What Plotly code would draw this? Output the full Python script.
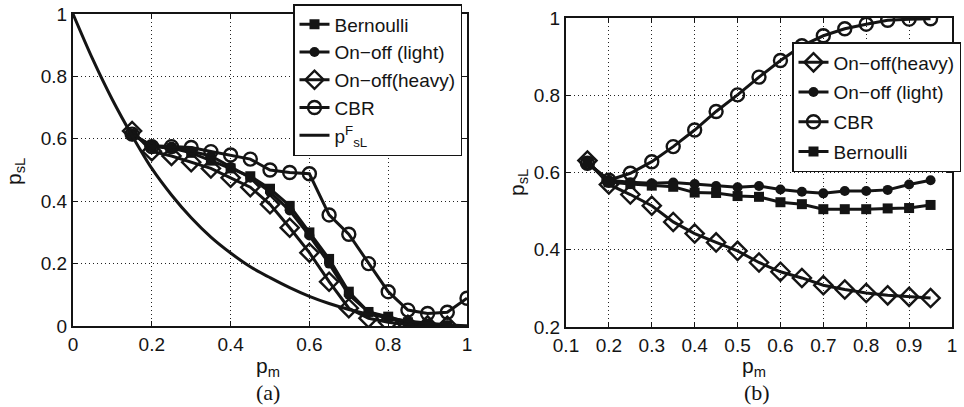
import plotly.graph_objects as go

# ---------------- data: panel (a) ----------------
pm_a = [0.15, 0.2, 0.25, 0.3, 0.35, 0.4, 0.45, 0.5, 0.55, 0.6, 0.65, 0.7, 0.75, 0.8, 0.85, 0.9, 0.95]
pm_a_cbr = [0.15, 0.2, 0.25, 0.3, 0.35, 0.4, 0.45, 0.5, 0.55, 0.6, 0.65, 0.7, 0.75, 0.8, 0.85, 0.9, 0.95, 1.0]
bern_a = [0.615, 0.575, 0.57, 0.555, 0.53, 0.505, 0.48, 0.44, 0.385, 0.3, 0.215, 0.11, 0.045, 0.03, 0.012, 0.005, 0.002]
light_a = [0.615, 0.578, 0.575, 0.56, 0.545, 0.51, 0.475, 0.43, 0.37, 0.29, 0.2, 0.1, 0.045, 0.025, 0.01, 0.004, 0.002]
heavy_a = [0.625, 0.56, 0.545, 0.525, 0.505, 0.475, 0.445, 0.39, 0.315, 0.235, 0.142, 0.057, 0.025, 0.012, 0.004, 0.002, 0.001]
cbr_a = [0.615, 0.575, 0.575, 0.572, 0.559, 0.548, 0.535, 0.5, 0.492, 0.488, 0.356, 0.294, 0.2, 0.11, 0.051, 0.04, 0.044, 0.089]
pm_f = [0, 0.05, 0.1, 0.15, 0.2, 0.25, 0.3, 0.35, 0.4, 0.45, 0.5, 0.55, 0.6, 0.65, 0.7, 0.75, 0.8, 0.85, 0.9, 0.95, 1.0]
psl_f = [1.0, 0.855, 0.725, 0.61, 0.505, 0.42, 0.347, 0.285, 0.234, 0.19, 0.155, 0.123, 0.095, 0.072, 0.053, 0.038, 0.026, 0.016, 0.009, 0.004, 0.001]

# ---------------- data: panel (b) ----------------
pm_b = [0.15, 0.2, 0.25, 0.3, 0.35, 0.4, 0.45, 0.5, 0.55, 0.6, 0.65, 0.7, 0.75, 0.8, 0.85, 0.9, 0.95]
heavy_b = [0.631, 0.569, 0.543, 0.514, 0.472, 0.442, 0.419, 0.397, 0.367, 0.343, 0.327, 0.308, 0.297, 0.288, 0.282, 0.278, 0.275]
light_b = [0.625, 0.58, 0.575, 0.572, 0.574, 0.57, 0.565, 0.562, 0.565, 0.556, 0.55, 0.546, 0.552, 0.552, 0.555, 0.569, 0.58]
cbr_b = [0.624, 0.58, 0.598, 0.628, 0.667, 0.71, 0.758, 0.801, 0.847, 0.89, 0.928, 0.954, 0.972, 0.984, 0.994, 0.997, 0.998]
bern_b = [0.625, 0.575, 0.57, 0.566, 0.563, 0.548, 0.547, 0.539, 0.537, 0.523, 0.518, 0.505, 0.505, 0.505, 0.507, 0.508, 0.516]

ticks_a_x = [0, 0.2, 0.4, 0.6, 0.8, 1]
ticks_a_y = [0, 0.2, 0.4, 0.6, 0.8, 1]
ticks_b_x = [0.1, 0.2, 0.3, 0.4, 0.5, 0.6, 0.7, 0.8, 0.9, 1]
ticks_b_y = [0.2, 0.4, 0.6, 0.8, 1]

INK = "#141414"
FONT = "Liberation Sans, Arial, sans-serif"
LW = 3

STYLES = {
    "Bernoulli": dict(symbol="square", size=10),
    "light": dict(symbol="circle", size=10),
    "heavy": dict(symbol="diamond-open", size=14, line=dict(width=2.4, color=INK)),
    "CBR": dict(symbol="circle-open", size=13, line=dict(width=2.4, color=INK)),
}

fig = go.Figure()


def add(x, y, name, key, xa, ya, leg, grp):
    m = dict(color=INK, **STYLES[key])
    fig.add_trace(go.Scatter(x=x, y=y, name=name, mode="lines+markers",
                             line=dict(color=INK, width=LW), marker=m,
                             xaxis=xa, yaxis=ya, legend=leg, legendgroup=grp))


add(pm_a, bern_a, "Bernoulli", "Bernoulli", "x", "y", "legend", "a1")
add(pm_a, light_a, "On\u2212off (light)", "light", "x", "y", "legend", "a2")
add(pm_a, heavy_a, "On\u2212off(heavy)", "heavy", "x", "y", "legend", "a3")
add(pm_a_cbr, cbr_a, "CBR", "CBR", "x", "y", "legend", "a4")
fig.add_trace(go.Scatter(x=pm_f, y=psl_f, name="p<sup>F</sup><sub>sL</sub>", mode="lines",
                         line=dict(color=INK, width=LW, shape="spline", smoothing=0.8),
                         xaxis="x", yaxis="y", legend="legend", legendgroup="a5"))

add(pm_b, heavy_b, "On\u2212off(heavy)", "heavy", "x2", "y2", "legend2", "b1")
add(pm_b, light_b, "On\u2212off (light)", "light", "x2", "y2", "legend2", "b2")
add(pm_b, cbr_b, "CBR", "CBR", "x2", "y2", "legend2", "b3")
add(pm_b, bern_b, "Bernoulli", "Bernoulli", "x2", "y2", "legend2", "b4")

W, H = 964, 407


def px_x(p):
    return p / W


def px_y(p):
    return 1 - p / H


axis_common = dict(showline=True, linecolor=INK, linewidth=2, mirror="ticks",
                   ticks="inside", ticklen=5, tickcolor=INK, tickwidth=1,
                   showgrid=True, gridcolor="#222222", griddash="1px,3px", gridwidth=1,
                   zeroline=False, automargin=False,
                   tickfont=dict(family=FONT, size=19, color=INK),
                   fixedrange=True)

fig.update_layout(
    width=W, height=H,
    autosize=False,
    margin=dict(l=0, r=0, t=0, b=0, pad=0, autoexpand=False),
    paper_bgcolor="white", plot_bgcolor="white",
    font=dict(family=FONT, color=INK),
    xaxis=dict(domain=[px_x(73), px_x(467)], range=[0, 1], tickvals=ticks_a_x,
               ticktext=["0", "0.2", "0.4", "0.6", "0.8", "1"], anchor="y", **axis_common),
    yaxis=dict(domain=[px_y(326), px_y(14)], range=[0, 1], tickvals=ticks_a_y,
               ticktext=["0", "0.2", "0.4", "0.6", "0.8", "1"], anchor="x", **axis_common),
    xaxis2=dict(domain=[px_x(566), px_x(952)], range=[0.1, 1], tickvals=ticks_b_x,
                ticktext=["0.1", "0.2", "0.3", "0.4", "0.5", "0.6", "0.7", "0.8", "0.9", "1"],
                anchor="y2", **axis_common),
    yaxis2=dict(domain=[px_y(327), px_y(18)], range=[0.2, 1], tickvals=ticks_b_y,
                ticktext=["0.2", "0.4", "0.6", "0.8", "1"], anchor="x2", **axis_common),
    legend=dict(x=px_x(293), y=px_y(4), xanchor="left", yanchor="top",
                xref="container", yref="container",
                bgcolor="white", bordercolor=INK, borderwidth=1.5,
                font=dict(family=FONT, size=19, color=INK), tracegroupgap=0,
                traceorder="grouped", itemwidth=30),
    legend2=dict(x=px_x(792), y=px_y(42), xanchor="left", yanchor="top",
                 xref="container", yref="container",
                 bgcolor="white", bordercolor=INK, borderwidth=1.5,
                 font=dict(family=FONT, size=19, color=INK), tracegroupgap=2,
                 traceorder="grouped", itemwidth=30),
    showlegend=True,
)

ann = [
    dict(text="p<sub>sL</sub>", x=px_x(15), y=px_y(172), textangle=-90),
    dict(text="p<sub>sL</sub>", x=px_x(518), y=px_y(183), textangle=-90),
    dict(text="p<sub>m</sub>", x=px_x(268), y=px_y(367)),
    dict(text="p<sub>m</sub>", x=px_x(754), y=px_y(367)),
]
for a in ann:
    fig.add_annotation(xref="paper", yref="paper", showarrow=False,
                       xanchor="center", yanchor="middle",
                       font=dict(family=FONT, size=21, color=INK), **a)
for t, xc in [("(a)", 268), ("(b)", 757)]:
    fig.add_annotation(text=t, xref="paper", yref="paper", x=px_x(xc), y=px_y(392),
                       showarrow=False, xanchor="center", yanchor="middle",
                       font=dict(family="Liberation Serif, Times New Roman, serif", size=22, color=INK))

fig.write_html(
    "out.html",
    config={"displayModeBar": False, "staticPlot": False},
    post_script="document.body.style.margin='0';document.body.style.padding='0';"
                "document.body.style.overflow='hidden';",
)
